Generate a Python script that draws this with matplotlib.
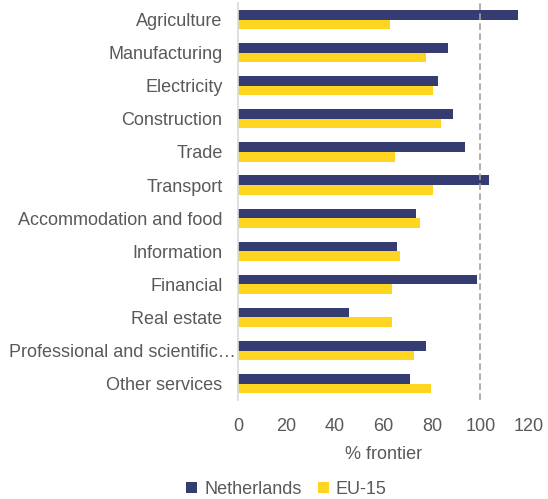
import matplotlib.pyplot as plt
import matplotlib.transforms as mtransforms
import numpy as np

plt.rcParams['font.family'] = ['Liberation Sans', 'DejaVu Sans']

sectors = ["Agriculture", "Manufacturing", "Electricity", "Construction", "Trade",
           "Transport", "Accommodation and food", "Information", "Financial",
           "Real estate", "Professional and scientific\u2026", "Other services"]
netherlands = [115.4, 86.6, 82.5, 88.7, 93.7, 103.4, 73.3, 65.6, 98.5, 46.0, 77.5, 71.2]
eu15 = [62.8, 77.5, 80.3, 83.9, 64.7, 80.3, 75.3, 66.9, 63.5, 63.5, 72.6, 79.6]
xticks = [0, 20, 40, 60, 80, 100, 120]

navy = '#353C72'
yellow = '#FFD520'
grey = '#595959'
fs = 13

fig = plt.figure(figsize=(5.48, 4.99), dpi=100)
ax = fig.add_axes([0.434, 0.198, 0.531, 0.796])

y = np.arange(len(sectors))
h = 0.29
ax.barh(y - h / 2, netherlands, height=h, color=navy, label='Netherlands')
ax.barh(y + h / 2, eu15, height=h, color=yellow, label='EU-15')

# frontier reference line
ax.axvline(100, color='#A89F9F', linestyle=(0, (4, 2)), linewidth=1.2)

ax.set_ylim(len(sectors) - 0.5, -0.5)
ax.set_xlim(0, 120)
ax.set_yticks(y)
ax.set_yticklabels(sectors, fontsize=fs, color=grey)
ax.set_xticks(xticks)
ax.set_xticklabels([str(t) for t in xticks], fontsize=fs, color=grey)
ax.tick_params(axis='y', length=0, pad=11)
ax.tick_params(axis='x', length=0, pad=13)
ax.set_xlabel('% frontier', fontsize=fs, color=grey, labelpad=8)

# the truncated label runs up to the axis line
lbl = ax.get_yticklabels()[sectors.index("Professional and scientific\u2026")]
lbl.set_transform(lbl.get_transform() + mtransforms.ScaledTranslation(13 / 100, 0, fig.dpi_scale_trans))

for s in ['top', 'right', 'bottom']:
    ax.spines[s].set_visible(False)
ax.spines['left'].set_color('#D9D9D9')
ax.spines['left'].set_linewidth(1.2)

leg = fig.legend(loc='lower left', bbox_to_anchor=(0.31, -0.03), ncol=2, frameon=False,
                 fontsize=fs, handlelength=0.6, handleheight=0.6, handletextpad=0.4,
                 columnspacing=0.9)
for t in leg.get_texts():
    t.set_color(grey)

fig.savefig('out.png', dpi=100)
